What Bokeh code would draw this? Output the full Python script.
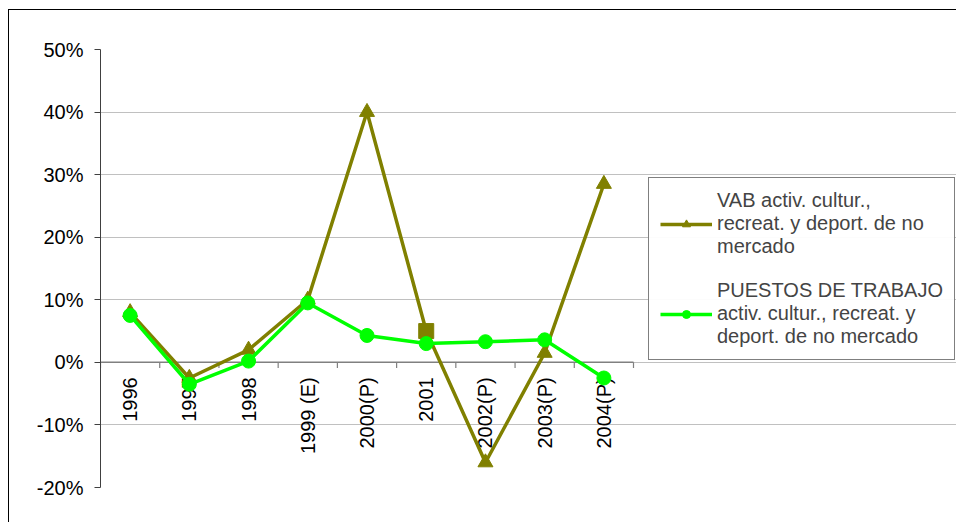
from bokeh.plotting import figure
from bokeh.models import Range1d, FixedTicker, NumeralTickFormatter, Legend, LegendItem, ColumnDataSource
from bokeh.core.properties import value
from bokeh.embed import file_html
from bokeh.resources import INLINE
import math

years = ["1996", "1997", "1998", "1999 (E)", "2000(P)", "2001", "2002(P)", "2003(P)", "2004(P)"]
vab = [0.08, -0.025, 0.02, 0.10, 0.40, 0.05, -0.16, 0.015, 0.285]
puestos = [0.075, -0.035, 0.002, 0.095, 0.043, 0.03, 0.033, 0.036, -0.025]
vab_markers = ["triangle", "triangle", "triangle", "triangle", "triangle", "square", "triangle", "triangle", "triangle"]
y_ticks = [-0.2, -0.1, 0.0, 0.1, 0.2, 0.3, 0.4, 0.5]
label_vab = "VAB activ. cultur.,\nrecreat. y deport. de no\nmercado"
label_pue = "PUESTOS DE TRABAJO\nactiv. cultur., recreat. y\ndeport. de no mercado"

n = len(years)
xs = list(range(n))
FONT = "Liberation Sans"
FS = "20px"

# plot area: 533 px for the categories, the frame runs on to the right edge to host the legend
cat_px = 533.0
frame_px = 857.0
x_end = -0.5 + frame_px * n / cat_px

p = figure(width=948, height=513, output_backend="svg", toolbar_location=None,
           x_range=Range1d(-0.5, x_end), y_range=Range1d(-0.2, 0.5),
           min_border_left=91, min_border_right=0, min_border_top=39, min_border_bottom=36)
p.styles = {"border-left": "1px solid black", "border-top": "1px solid black",
            "margin-left": "8px", "margin-top": "9px"}
p.outline_line_color = None
p.xaxis.visible = False
p.xgrid.grid_line_color = None
p.ygrid.grid_line_color = "#c0c0c0"
p.ygrid.grid_line_width = 1
p.ygrid.bounds = (-0.5, n - 0.5)
p.yaxis.ticker = FixedTicker(ticks=y_ticks)
p.yaxis.formatter = NumeralTickFormatter(format="0%")
p.yaxis.major_label_text_font = FONT
p.yaxis.major_label_text_font_size = FS
p.yaxis.major_label_text_color = "black"
p.yaxis.axis_line_color = "#404040"
p.yaxis.major_tick_line_color = "#404040"
p.yaxis.major_tick_out = 6
p.yaxis.major_tick_in = 0
p.yaxis.minor_tick_line_color = None
p.yaxis.major_label_standoff = 11

# zero line with category ticks
p.segment(x0=[-0.5], y0=[0], x1=[n - 0.5], y1=[0], line_color="#808080", line_width=1.5)
bounds = [i - 0.5 for i in range(n + 1)]
p.segment(x0=bounds, y0=[0] * len(bounds), x1=bounds, y1=[-0.009] * len(bounds),
          line_color="#808080", line_width=1.2)

# category labels
p.text(x=xs, y=[0] * n, text=years, angle=math.pi / 2, text_align="right",
       text_baseline="middle", y_offset=15, text_font=value(FONT), text_font_size=FS,
       text_color="black")

src_v = ColumnDataSource(dict(x=xs, y=vab, m=vab_markers))
rv_line = p.line(xs, vab, line_color="#808000", line_width=3.5)
rv_pts = p.scatter("x", "y", source=src_v, marker="m", size=15, fill_color="#808000", line_color="#808000")
rp_line = p.line(xs, puestos, line_color="#00ff00", line_width=3.5)
rp_pts = p.scatter(xs, puestos, marker="circle", size=14, fill_color="#00ff00", line_color="#00ff00")

legend = Legend(items=[LegendItem(label=label_vab, renderers=[rv_line, rv_pts]),
                       LegendItem(label=label_pue, renderers=[rp_line, rp_pts])],
                location=(548, 127))
legend.border_line_color = "black"
legend.border_line_width = 1
legend.label_text_font = FONT
legend.label_text_font_size = FS
legend.label_standoff = 5
legend.glyph_width = 52
legend.spacing = 21
legend.padding = 11
legend.margin = 0
legend.background_fill_color = "white"
p.add_layout(legend, "center")

open("out.html", "w").write(file_html(p, INLINE))
